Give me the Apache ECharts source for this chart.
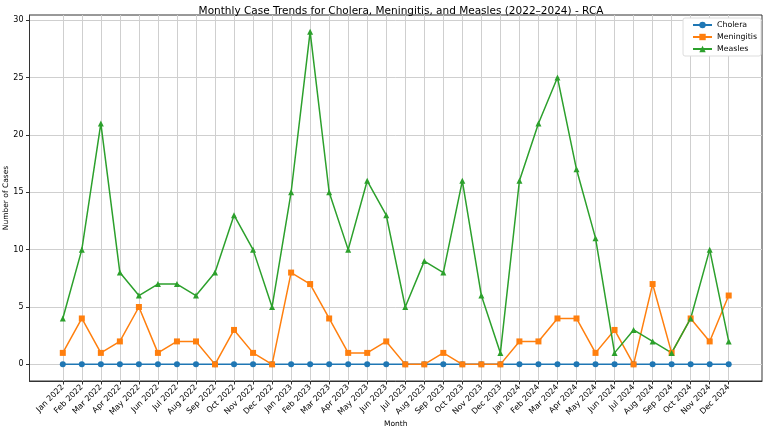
<!DOCTYPE html>
<html>
<head>
<meta charset="utf-8">
<script src="https://cdn.jsdelivr.net/npm/echarts@6/dist/echarts.min.js"></script>
<style>html,body{margin:0;padding:0;background:#fff}#c{width:767px;height:430px}</style>
</head>
<body>
<div id="c"></div>
<script>
const months = ['Jan 2022','Feb 2022','Mar 2022','Apr 2022','May 2022','Jun 2022','Jul 2022','Aug 2022','Sep 2022','Oct 2022','Nov 2022','Dec 2022',
  'Jan 2023','Feb 2023','Mar 2023','Apr 2023','May 2023','Jun 2023','Jul 2023','Aug 2023','Sep 2023','Oct 2023','Nov 2023','Dec 2023',
  'Jan 2024','Feb 2024','Mar 2024','Apr 2024','May 2024','Jun 2024','Jul 2024','Aug 2024','Sep 2024','Oct 2024','Nov 2024','Dec 2024'];
const cholera = [0,0,0,0,0,0,0,0,0,0,0,0, 0,0,0,0,0,0,0,0,0,0,0,0, 0,0,0,0,0,0,0,0,0,0,0,0];
const meningitis = [1,4,1,2,5,1,2,2,0,3,1,0, 8,7,4,1,1,2,0,0,1,0,0,0, 2,2,4,4,1,3,0,7,1,4,2,6];
const measles = [4,10,21,8,6,7,7,6,8,13,10,5, 15,29,15,10,16,13,5,9,8,16,6,1, 16,21,25,17,11,1,3,2,1,4,10,2];
const yTicks = [0,5,10,15,20,25,30];

const xIdx = months.map((m,i)=>i);
const pairs = arr => arr.map((v,i)=>[i,v]);
const font = 'DejaVu Sans';

const chart = echarts.init(document.getElementById('c'), null, {renderer:'canvas'});
function mk(name, data, color, symbol, size){
  return {name, type:'line', data:pairs(data), symbol, symbolSize:size, showSymbol:true,
    lineStyle:{color, width:1.5}, itemStyle:{color}, animation:false, z:3};
}
chart.setOption({
  animation:false,
  textStyle:{fontFamily:font},
  title:{text:'Monthly Case Trends for Cholera, Meningitis, and Measles (2022–2024) - RCA', left:396, top:1, textAlign:'center',
    textStyle:{fontFamily:font, fontSize:10.5, fontWeight:'normal', color:'#000'}},
  grid:{left:29.5, top:15, right:5, bottom:49, show:true, borderColor:'#333', borderWidth:1, containLabel:false, outerBoundsMode:'none'},
  legend:{orient:'vertical', right:6, top:18, itemWidth:19, itemHeight:8, itemGap:4,
    backgroundColor:'#fff', borderColor:'#ddd', borderWidth:1, borderRadius:2, padding:[3,4,3,9],
    textStyle:{fontFamily:font, fontSize:7.8, color:'#000'},
    data:['Cholera','Meningitis','Measles']},
  xAxis:{type:'value', min:-1.75, max:36.75,
    name:'Month', nameLocation:'middle', nameGap:39, nameMoveOverlap:false, nameTextStyle:{fontFamily:font, fontSize:7.5, color:'#000'},
    axisLine:{show:true, onZero:false, lineStyle:{color:'#333'}},
    axisTick:{show:true, length:3.5, lineStyle:{color:'#333'}, customValues:xIdx},
    axisLabel:{customValues:xIdx, rotate:45, fontSize:8, color:'#000', fontFamily:font, margin:5,
      formatter:v=>months[Math.round(v)]},
    splitLine:{show:true, lineStyle:{color:'#cfcfcf', width:1}}},
  yAxis:{type:'value', min:-1.45, max:30.45,
    name:'Number of Cases', nameLocation:'middle', nameGap:19, nameMoveOverlap:false, nameTextStyle:{fontFamily:font, fontSize:7.5, color:'#000'},
    axisLine:{show:true, onZero:false, lineStyle:{color:'#333'}},
    axisTick:{show:true, length:3.5, lineStyle:{color:'#333'}, customValues:yTicks},
    axisLabel:{customValues:yTicks, fontSize:8, color:'#000', fontFamily:font, margin:6},
    splitLine:{show:true, lineStyle:{color:'#cfcfcf', width:1}}},
  series:[
    mk('Cholera', cholera, '#1f77b4', 'circle', 6),
    mk('Meningitis', meningitis, '#ff7f0e', 'rect', 6),
    mk('Measles', measles, '#2ca02c', 'triangle', 6)
  ]
});
</script>
</body>
</html>
